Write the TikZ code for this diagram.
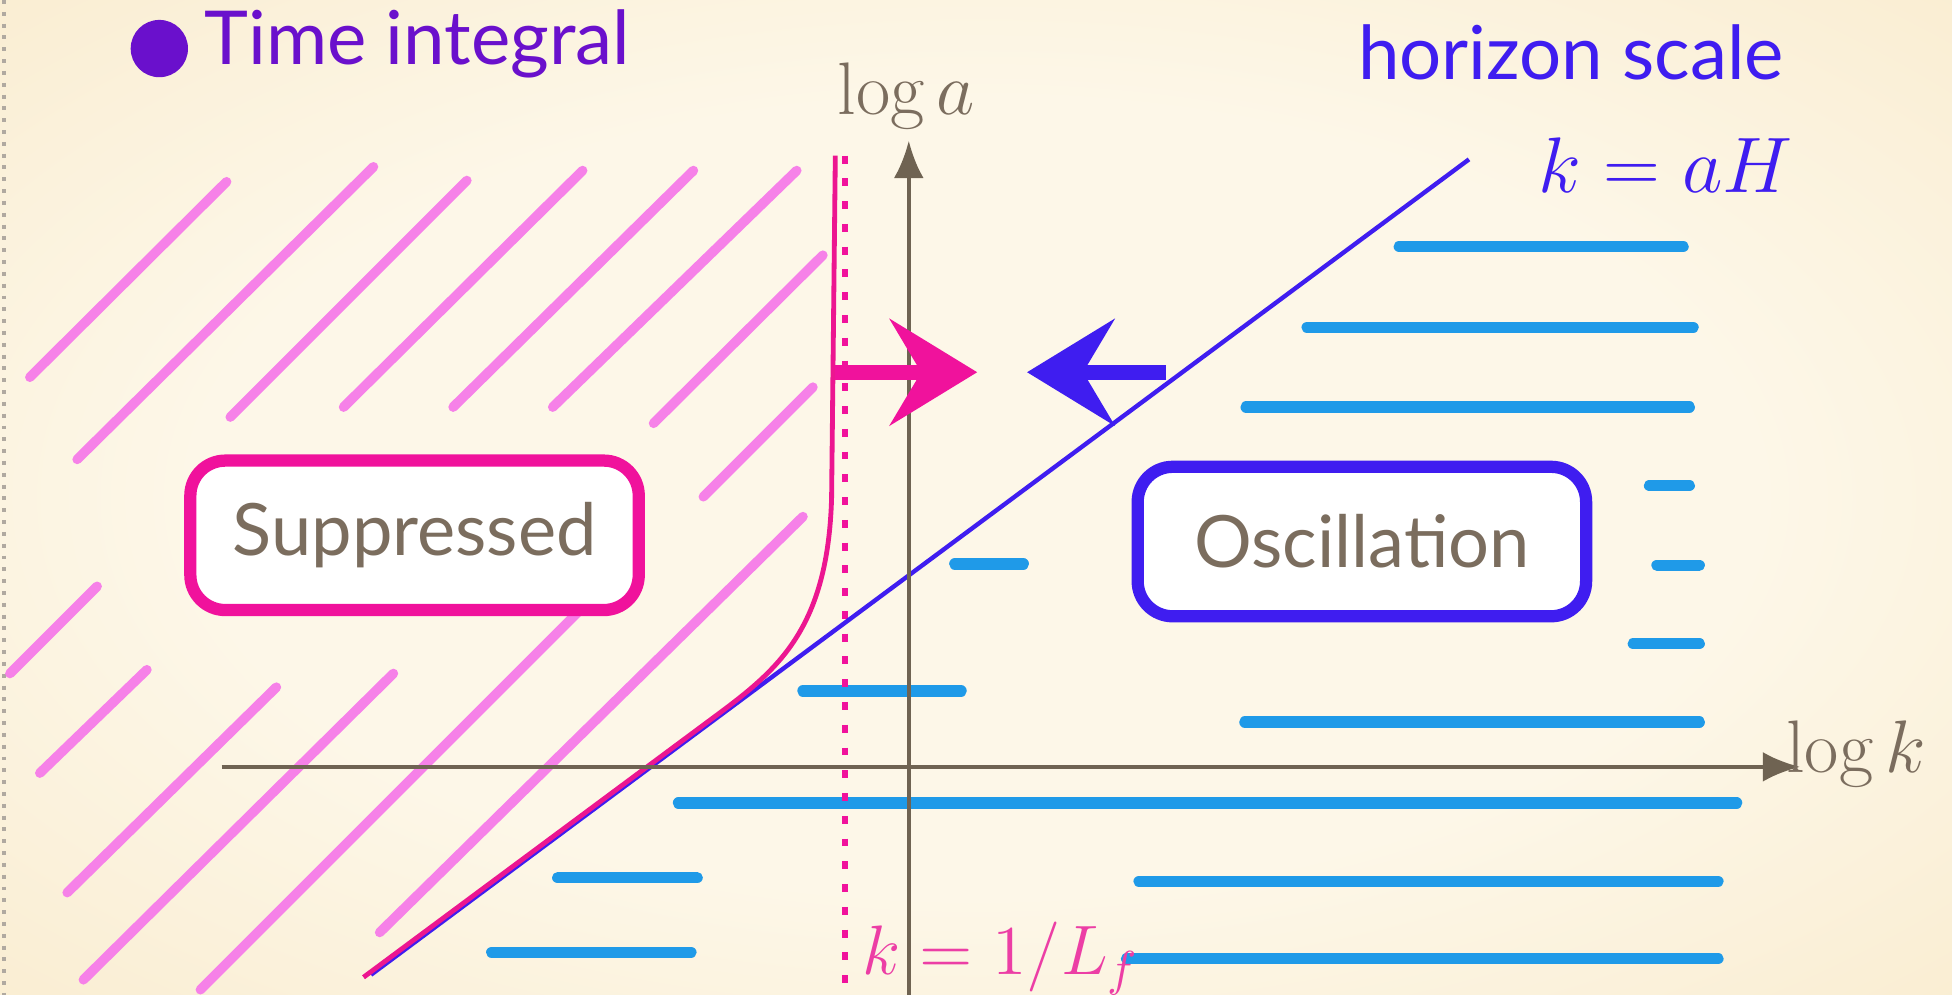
\RequirePackage{fix-cm}
\documentclass[tikz,border=0pt]{standalone}
\usepackage{fontspec}
\newfontfamily\gillish{Lato}
\usetikzlibrary{arrows.meta,positioning}
\definecolor{PaperLight}{HTML}{FDF7E8}
\definecolor{PaperMid}{HTML}{F7E7C4}
\definecolor{PaperEdge}{HTML}{E8CC98}
\definecolor{AxisBrown}{HTML}{6F6352}
\definecolor{LabelGrey}{HTML}{7B6D5E}
\definecolor{TitlePurple}{HTML}{6A10CC}
\definecolor{HorizonBlue}{HTML}{3F1DF0}
\definecolor{MarkerPink}{HTML}{F0129C}
\definecolor{CurvePink}{HTML}{EC1690}
\definecolor{SoftPink}{HTML}{EC3EA5}
\definecolor{HatchPink}{HTML}{F681E8}
\definecolor{WaveBlue}{HTML}{1F9AE8}
\pgfdeclareradialshading{paperglow}{\pgfpoint{0bp}{0bp}}{color(0bp)=(PaperLight); color(20bp)=(PaperLight); color(46bp)=(PaperMid); color(72bp)=(PaperEdge)}
\tikzset{
  hatch/.style={draw=HatchPink, line width=2.2pt, line cap=round},
  wave/.style={draw=WaveBlue, line width=2.6pt, line cap=round},
  axisline/.style={draw=AxisBrown, line width=1pt, -{Latex[length=3mm,width=2.4mm]}},
  fatarrow/.style={line width=3.4pt, -{Stealth[length=7mm,width=8.5mm,inset=2.5mm]}},
  regionbox/.style={
    rounded corners=8pt,
    fill=white,
    line width=2.8pt,
    minimum width=3.6cm,
    minimum height=1.2cm,
    text=LabelGrey,
    font=\gillish\fontsize{16.5}{18}\selectfont
  },
  axislabel/.style={text=LabelGrey, inner sep=0pt, font=\fontsize{17}{20}\selectfont},
  titletext/.style={inner sep=0pt, font=\gillish\fontsize{17}{20}\selectfont}
}

\begin{document}
\begin{tikzpicture}[x=0.01cm, y=-0.01cm]
    \useasboundingbox (0,0) rectangle (1568,799);
    \shade[shading=paperglow] (0,0) rectangle (1568,799);
    \draw[draw=AxisBrown!55, line width=0.9pt, dash pattern=on 0.9pt off 1.8pt] (3,0) -- (3,799);

    \draw[hatch] (24,303) -- (182,146);
    \draw[hatch] (62,369) -- (300,134);
    \draw[hatch] (185,335) -- (375,145);
    \draw[hatch] (276,327) -- (468,137);
    \draw[hatch] (364,327) -- (557,137);
    \draw[hatch] (444,327) -- (640,137);
    \draw[hatch] (525,340) -- (661,205);
    \draw[hatch] (565,399) -- (653,311);
    \draw[hatch] (8,541) -- (78,471);
    \draw[hatch] (32,621) -- (118,538);
    \draw[hatch] (54,717) -- (222,552);
    \draw[hatch] (67,787) -- (316,541);
    \draw[hatch] (161,795) -- (480,476);
    \draw[hatch] (305,749) -- (645,415);

    \draw[wave] (1124,198) -- (1352,198);
    \draw[wave] (1050,263) -- (1360,263);
    \draw[wave] (1001,327) -- (1357,327);
    \draw[wave] (1325,390) -- (1357,390);
    \draw[wave] (1331,454) -- (1365,454);
    \draw[wave] (1312,517) -- (1365,517);
    \draw[wave] (767,453) -- (822,453);
    \draw[wave] (645,555) -- (772,555);
    \draw[wave] (1000,580) -- (1365,580);
    \draw[wave] (545,645) -- (1395,645);
    \draw[wave] (448,705) -- (560,705);
    \draw[wave] (915,708) -- (1380,708);
    \draw[wave] (395,765) -- (555,765);
    \draw[wave] (905,770) -- (1380,770);

    \coordinate (kmin) at (178,616);
    \coordinate (kmax) at (1446,616);
    \coordinate (amin) at (730,799);
    \coordinate (amax) at (730,113);
    \coordinate (hlow) at (298,783);
    \coordinate (hhigh) at (1180,128);
    \coordinate (flow) at (292,785);
    \coordinate (fbend) at (575,575);
    \coordinate (fknee) at (668,400);
    \coordinate (ftop) at (671,125);
    \coordinate (ltop) at (679,125);
    \coordinate (lbot) at (679,799);

    \draw[MarkerPink, line width=1.4pt, dash pattern=on 1.8pt off 3.4pt] (ltop) -- (lbot);
    \draw[HorizonBlue, line width=1pt] (hlow) -- (hhigh);
    \draw[CurvePink, line width=1.1pt] (flow) -- (fbend) .. controls (625,538) and (665,505) .. (fknee) -- (ftop);
    \draw[axisline] (kmin) -- (kmax);
    \draw[axisline] (amin) -- (amax);

    \node[regionbox, draw=MarkerPink] (supp) at (333,430) {Suppressed};
    \node[regionbox, draw=HorizonBlue] (osc) at (1094,435) {Oscillation};

    \coordinate (pushstart) at (671,299);
    \coordinate (pushtip) at (785,299);
    \coordinate (pullstart) at (937,299);
    \coordinate (pulltip) at (825,299);
    \draw[fatarrow, MarkerPink] (pushstart) -- (pushtip);
    \draw[fatarrow, HorizonBlue] (pullstart) -- (pulltip);

    \node[axislabel] (loga) at (728,77) {$\log a$};
    \node[axislabel] (logk) at (1491,606) {$\log k$};
    \node[axislabel, text=SoftPink, anchor=west, font=\fontsize{16}{18}\selectfont] (kcut) at (692,770) {$k=1/L_f$};
    \node[axislabel, text=HorizonBlue, font=\fontsize{18}{20}\selectfont] (kah) at (1338,133) {$k=aH$};

    \node[circle, fill=TitlePurple, minimum size=0.46cm, inner sep=0pt] (bullet) at (128,39) {};
    \node[titletext, text=TitlePurple, right=0.12cm of bullet, yshift=0.04cm] (title) {Time integral};
    \node[titletext, text=HorizonBlue] (horizon) at (1262,42) {horizon scale};
  \end{tikzpicture}
\end{document}
